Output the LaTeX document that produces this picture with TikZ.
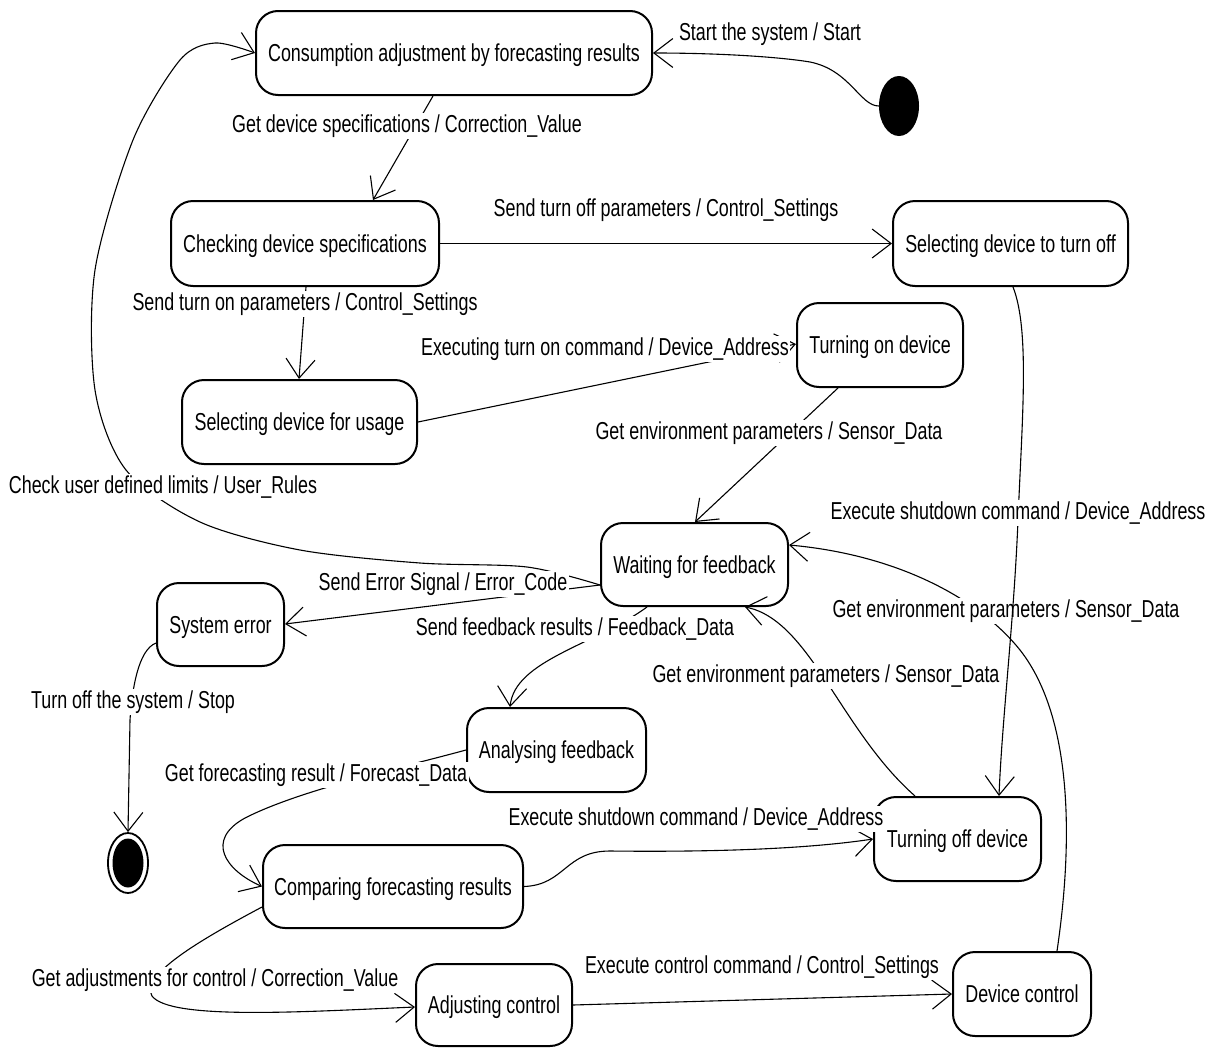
\documentclass[tikz,border=0pt]{standalone}
\usepackage{fontspec}
\setmainfont{Liberation Sans}[FakeStretch=0.73]
\usetikzlibrary{arrows.meta,calc,shapes.geometric}
\newcommand\dfont{\fontsize{24.5}{29}\selectfont}
\tikzset{
  st/.style={draw, line width=2pt, rounded corners=22pt, fill=white, inner sep=0pt,
    font=\dfont, text height=17.8pt, text depth=0pt},
  lbl/.style={fill=white, inner sep=1.5pt, font=\dfont, text height=17.8pt, text depth=5.2pt},
  tr/.style={line width=1.1pt, -{Straight Barb[length=19pt,width=29pt]}},
}
\begin{document}
\begin{tikzpicture}[x=1pt,y=-1pt]
\useasboundingbox[fill=white] (0,0) rectangle (1213,1047);
% states
\node[st, minimum width=396pt, minimum height=84pt] (C) at (454,53) {Consumption adjustment by forecasting results};
\node[st, minimum width=268pt, minimum height=85pt] (CH) at (305,243.5) {Checking device specifications};
\node[st, minimum width=235pt, minimum height=85pt] (SO) at (1010.5,243.5) {Selecting device to turn off};
\node[st, minimum width=235pt, minimum height=84pt] (SU) at (299.5,422) {Selecting device for usage};
\node[st, minimum width=166pt, minimum height=84pt] (TON) at (880,345) {Turning on device};
\node[st, minimum width=187pt, minimum height=83pt] (W) at (694.5,564.5) {Waiting for feedback};
\node[st, minimum width=127pt, minimum height=83pt] (SE) at (220.5,624.5) {System error};
\node[st, minimum width=179pt, minimum height=84pt] (AF) at (556.5,750) {Analysing feedback};
\node[st, minimum width=260pt, minimum height=83pt] (CF) at (393,886.5) {Comparing forecasting results};
\node[st, minimum width=167pt, minimum height=84pt] (TOFF) at (957.5,839) {Turning off device};
\node[st, minimum width=156pt, minimum height=82pt] (AC) at (494,1005) {Adjusting control};
\node[st, minimum width=138pt, minimum height=84pt] (DC) at (1022,994) {Device control};
% pseudo states
\node[ellipse, fill=black, minimum width=40pt, minimum height=60pt, inner sep=0pt] (init) at (899,106) {};
\node[ellipse, draw, line width=1.8pt, fill=white, minimum width=40pt, minimum height=60pt, inner sep=0pt] (fin) at (128,863) {};
\node[ellipse, fill=black, minimum width=31pt, minimum height=49pt, inner sep=0pt] (finc) at (fin) {};
% helper coordinates
\coordinate (wA) at ([yshift=-20.5pt]W.west);
% E1
\draw[tr] (init.west) .. controls (860,106) and (850,70) .. (810,62) .. controls (780,57) and (720,53) .. (C.east);
\node[lbl] (l1) at (770,34) {Start the system / Start};
% E2
\draw[tr] ([xshift=-21pt]C.south) -- ([xshift=68pt]CH.north);
\node[lbl] (l2) at (407,126) {Get device specifications / Correction\_Value};
% E3
\draw[tr] (CH.east) -- (SO.west);
\node[lbl] (l3) at (666,210) {Send turn off parameters / Control\_Settings};
% E4
\draw[tr] ([xshift=1pt]CH.south) -- ([xshift=-0.5pt]SU.north);
\node[lbl] (l4) at (305,304) {Send turn on parameters / Control\_Settings};
% E5
\draw[tr] (SU.east) -- ([yshift=1pt]TON.west);
\node[lbl] (l5) at (605,349) {Executing turn on command / Device\_Address};
% E6
\draw[tr] ([xshift=-42pt]TON.south) -- ([xshift=0.5pt]W.north);
\node[lbl] (l6) at (769,433) {Get environment parameters / Sensor\_Data};
% E8
\draw[tr] ([xshift=35pt]DC.north) .. controls (1072,850) and (1075,720) .. (1020,650) .. controls (980,600) and (900,555) .. ([yshift=19.5pt]W.east);
\node[lbl] (l8) at (1006,611) {Get environment parameters / Sensor\_Data};
% E7
\draw[tr] ([xshift=2.5pt]SO.south) .. controls (1030,330) and (1022,420) .. (1018,520) .. controls (1014,620) and (1002,720) .. ([xshift=41.5pt]TOFF.north);
\node[lbl] (l7) at (1018,513) {Execute shutdown command / Device\_Address};
% E9
\draw[tr] ([xshift=-42.5pt]TOFF.north) .. controls (840,730) and (810,620) .. ([xshift=50.5pt]W.south);
\node[lbl] (l9) at (826,676) {Get environment parameters / Sensor\_Data};
% E11
\draw[tr] plot[smooth] coordinates {(wA) (527,567) (420,563) (300,550) (200,522) (126,470) (95,390) (95,270) (133,140) (180,60) (215,43) (C.west)};
\node[lbl] (l11) at (163,487) {Check user defined limits / User\_Rules};
% E10
\draw[tr] (wA) -- ([yshift=0.5pt]SE.east);
\node[lbl] (l10) at (443,584) {Send Error Signal / Error\_Code};
% E12
\draw[tr] ([xshift=-47.5pt]W.south) .. controls (595,645) and (515,660) .. ([xshift=-46.5pt]AF.north);
\node[lbl] (l12) at (575,629) {Send feedback results / Feedback\_Data};
% E13
\draw[tr] (AF.west) .. controls (400,768) and (300,790) .. (245,818) .. controls (205,840) and (225,870) .. (CF.west);
\node[lbl] (l13) at (316,775) {Get forecasting result / Forecast\_Data};
% E14
\draw[tr] (CF.east) .. controls (565,885) and (565,851) .. (610,851) .. controls (700,852) and (800,850) .. (TOFF.west);
\node[lbl] (l14) at (696,819) {Execute shutdown command / Device\_Address};
% E15
\draw[tr] ([yshift=-18.5pt]SE.west) .. controls (138,650) and (132,690) .. (130,720) -- (fin.north);
\node[lbl] (l15) at (133,702) {Turn off the system / Stop};
% E16
\draw[tr] ([yshift=-20.5pt]CF.west) .. controls (200,940) and (140,975) .. (152,996) .. controls (170,1020) and (300,1012) .. ([yshift=-2pt]AC.west);
\node[lbl] (l16) at (215,980) {Get adjustments for control / Correction\_Value};
% E17
\draw[tr] (AC.east) -- (DC.west);
\node[lbl] (l17) at (762,967) {Execute control command / Control\_Settings};
\end{tikzpicture}
\end{document}
